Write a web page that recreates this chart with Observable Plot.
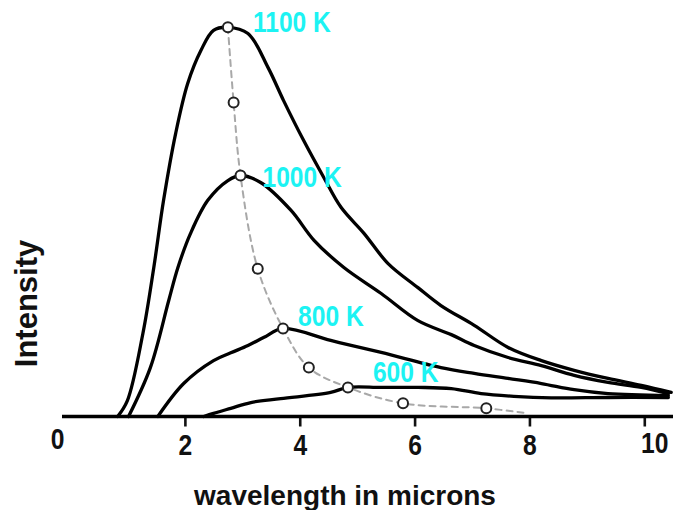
<!DOCTYPE html>
<html>
<head>
<meta charset="utf-8">
<script src="https://cdn.jsdelivr.net/npm/d3@7"></script>
<script src="https://cdn.jsdelivr.net/npm/@observablehq/plot@0.6"></script>
<style>
  html, body { margin: 0; padding: 0; background: #fff; }
  #chart svg { display: block; }
</style>
</head>
<body>
<div id="chart"></div>
<script>
// Wavelength (microns) and relative intensity
const wl1100  = [0.82, 0.99, 1.26, 1.45, 1.62, 1.83, 2.04, 2.27, 2.49, 2.74, 3.09, 3.44, 3.71, 4.06, 4.41, 4.71, 5.11, 5.53, 6.05, 6.45, 7.03, 7.62, 8.20, 8.77, 9.36, 9.94, 10.46];
const int1100 = [0.0, 4.1, 21.4, 38.4, 55.7, 72.9, 85.8, 94.3, 99.5, 100.3, 98.7, 89.9, 81.4, 71.1, 61.6, 53.9, 47.2, 39.4, 33.2, 28.6, 23.5, 17.8, 14.4, 11.9, 9.8, 8.0, 6.2];

const wl1000  = [1.01, 1.39, 1.71, 1.87, 2.09, 2.39, 2.74, 2.96, 3.31, 3.84, 4.24, 4.76, 5.41, 6.05, 6.63, 7.03, 7.62, 8.20, 8.77, 9.36, 9.94, 10.41];
const int1000 = [0.0, 12.6, 29.9, 38.4, 47.2, 55.7, 60.8, 62.1, 60.3, 53.1, 45.4, 38.4, 31.7, 24.7, 21.1, 18.3, 15.2, 13.1, 10.6, 8.8, 7.5, 5.9];

const wl800   = [1.52, 1.97, 2.49, 2.79, 3.09, 3.37, 3.70, 4.53, 5.41, 6.45, 7.03, 7.62, 8.20, 8.77, 9.36, 10.41];
const int800  = [0.0, 8.5, 14.4, 16.4, 18.3, 20.4, 22.7, 19.6, 16.5, 12.6, 11.1, 9.8, 8.5, 6.9, 5.9, 5.4];

const wl600   = [2.32, 2.49, 2.79, 3.14, 3.66, 4.53, 4.83, 5.41, 6.05, 6.63, 7.15, 7.72, 8.37, 9.36, 10.41];
const int600  = [0.0, 0.8, 2.1, 3.6, 4.6, 6.2, 7.5, 7.5, 7.5, 7.2, 5.9, 5.2, 4.8, 4.9, 4.9];

// Peak (Wien displacement) markers and the dashed line through them
const peakWl  = [2.74, 2.84, 2.96, 3.26, 3.70, 4.15, 4.83, 5.79, 7.24];
const peakInt = [100.3, 80.9, 62.1, 38.1, 22.7, 12.6, 7.5, 3.4, 2.1];
const wienTailWl  = [7.97];
const wienTailInt = [0.8];

const tempLabels = ["1100 K", "1000 K", "800 K", "600 K"];
const tempPeakIndex = [0, 2, 4, 6];

const xTickLabels = [0, 2, 4, 6, 8, 10];
const xTickMarks  = [2, 4, 6, 8, 10];

const xTitle = "wavelength in microns";
const yTitle = "Intensity";

// ---- build tables ----
function series(T, xs, ys) { return xs.map((x, i) => ({T, x, y: ys[i]})); }
const curves = [
  ...series(1100, wl1100, int1100),
  ...series(1000, wl1000, int1000),
  ...series(800, wl800, int800),
  ...series(600, wl600, int600)
];
const peaks = peakWl.map((x, i) => ({x, y: peakInt[i]}));
const wienLine = [...peaks, ...wienTailWl.map((x, i) => ({x, y: wienTailInt[i]}))];

const sans = "'Liberation Sans', Arial, Helvetica, sans-serif";
const cyan = "#1cf3f3";

// short vertical tick glyph for the x axis
const tickGlyph = {draw(context) { context.moveTo(0, -5); context.lineTo(0, 5); }};

const labelOffsets = [[25, -5], [22, 2], [15, -12], [25, -15]];
const labelMarks = tempLabels.map((t, i) => {
  const p = peaks[tempPeakIndex[i]];
  return Plot.text([{x: p.x, y: p.y, t}], {
    x: "x", y: "y", text: "t",
    dx: labelOffsets[i][0], dy: labelOffsets[i][1],
    textAnchor: "start", lineAnchor: "middle",
    fill: cyan, fontSize: 30, fontWeight: "bold", fontFamily: sans,
    className: "narrowtxt"
  });
});

const tickLabelStyle = {frameAnchor: "bottom", dy: 29, lineAnchor: "middle",
  fontSize: 30, fontWeight: "bold", fontFamily: sans, fill: "#111", className: "narrowtxt"};
const firstTick = xTickLabels[0];
const lastTick = xTickLabels[xTickLabels.length - 1];

const chart = Plot.plot({
  width: 673,
  height: 510,
  marginLeft: 62,
  marginRight: 0,
  marginTop: 0,
  marginBottom: 94,
  style: {background: "#fff", overflow: "visible"},
  x: {domain: [-0.14, 10.5], axis: null},
  y: {domain: [0, 107.2], axis: null},
  marks: [
    Plot.line(wienLine, {x: "x", y: "y", stroke: "#a8a8a8", strokeWidth: 2, strokeDasharray: "6,5", curve: "catmull-rom"}),
    Plot.line(curves, {x: "x", y: "y", z: "T", stroke: "#000", strokeWidth: 3.3, curve: "catmull-rom", strokeLinejoin: "round"}),
    Plot.dot(peaks, {x: "x", y: "y", r: 5, stroke: "#222", strokeWidth: 2, fill: "#fff"}),
    Plot.dot(xTickMarks, {x: d => d, frameAnchor: "bottom", dy: 5, symbol: tickGlyph, r: 4,
      stroke: "#111", strokeWidth: 2.6, fill: "none"}),
    Plot.ruleY([0], {stroke: "#000", strokeWidth: 3.5}),
    Plot.text(xTickLabels.filter(d => d !== firstTick && d !== lastTick), {x: d => d, text: d => String(d), ...tickLabelStyle}),
    Plot.text([firstTick], {x: d => d, text: d => String(d), ...tickLabelStyle, dx: -13, dy: 23}),
    Plot.text([lastTick], {x: d => d, text: d => String(d), ...tickLabelStyle, dx: 10, dy: 27}),
    Plot.text([xTitle], {text: d => d, frameAnchor: "bottom", dy: 80, dx: -23, lineAnchor: "middle",
      fontSize: 28, fontWeight: "bold", fontFamily: sans, fill: "#111"}),
    Plot.text([yTitle], {text: d => d, frameAnchor: "left", dx: -35, dy: 95, rotate: -90,
      textAnchor: "middle", lineAnchor: "middle",
      fontSize: 31, fontWeight: "bold", fontFamily: sans, fill: "#111"}),
    ...labelMarks
  ]
});
document.getElementById("chart").appendChild(chart);

// condense the bold label text to mimic a narrow typeface
d3.select(chart).selectAll(".narrowtxt text").each(function () {
  const w = this.getComputedTextLength();
  this.setAttribute("textLength", (w * 0.82).toFixed(1));
  this.setAttribute("lengthAdjust", "spacingAndGlyphs");
});
</script>
</body>
</html>
